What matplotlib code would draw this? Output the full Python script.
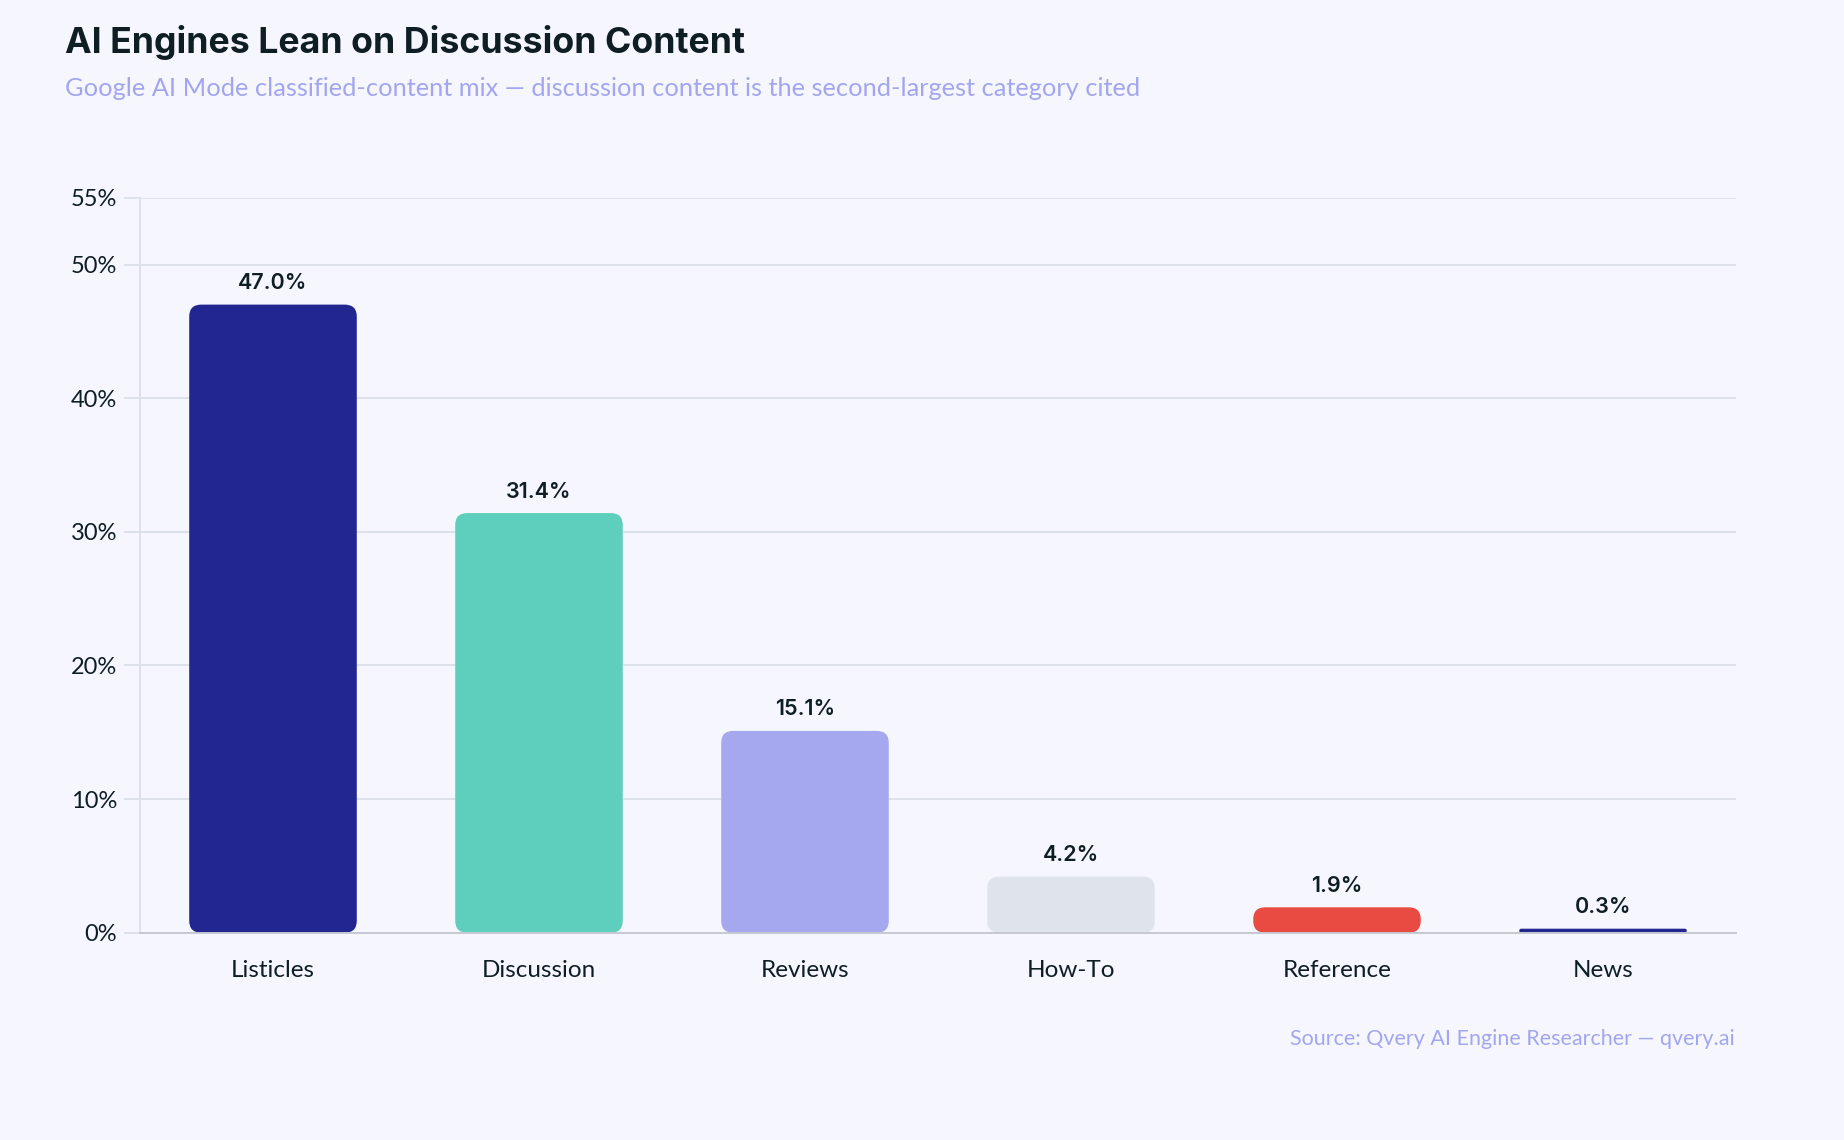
import numpy as np
import matplotlib.pyplot as plt
from matplotlib.patches import FancyBboxPatch

# data
categories = ["Listicles", "Discussion", "Reviews", "How-To", "Reference", "News"]
shares = [47.0, 31.4, 15.1, 4.2, 1.9, 0.3]
bar_colors = ["#212691", "#5fcfbd", "#a6a8ef", "#dfe3ea", "#e94a41", "#212691"]
y_ticks = [0, 10, 20, 30, 40, 50, 55]

title = "AI Engines Lean on Discussion Content"
subtitle = "Google AI Mode classified-content mix \u2014 discussion content is the second-largest category cited"
source = "Source: Qvery AI Engine Researcher \u2014 qvery.ai"

BG = "#f6f7fe"
INK = "#0f1e24"
MUTED = "#a3a6ee"
GRID = "#dde2ea"

W, H, DPI = 1844, 1140, 100
fig = plt.figure(figsize=(W / DPI, H / DPI), dpi=DPI, facecolor=BG)
ax = fig.add_axes([140 / W, 1 - 932.7 / H, (1736 - 140) / W, (932.7 - 197.7) / H])
ax.set_facecolor(BG)

x = np.arange(len(categories))
bar_w = 0.63
ax.set_xlim(-0.5, len(categories) - 0.5)
ax.set_ylim(0, 55)

bars = ax.bar(x, shares, width=bar_w, color=bar_colors, zorder=3)

# swap plain bars for rounded ones
px_w = 1596.0
px_h = 735.0
x_per_px = 6.0 / px_w
y_per_px = 55.0 / px_h
aspect = y_per_px / x_per_px
r_px = 12.0
for b in bars:
    bx, by = b.get_x(), b.get_y()
    bw, bh = b.get_width(), b.get_height()
    b.set_visible(False)
    h_px = bh / y_per_px
    r = min(r_px, h_px / 2.0) * x_per_px
    p = FancyBboxPatch((bx, by), bw, bh,
                       boxstyle="round,pad=0,rounding_size=%f" % r,
                       mutation_aspect=aspect,
                       facecolor=b.get_facecolor(), edgecolor="none", zorder=3)
    ax.add_patch(p)

# value labels
for xi, v in zip(x, shares):
    ax.annotate("%.1f%%" % v, (xi, v), xytext=(0, 15.5 * 0.72), textcoords="offset points",
                ha="center", va="baseline", fontsize=15.5, family="Inter",
                fontweight="semibold", color=INK, zorder=4)

# category labels
ax.set_xticks(x)
ax.set_xticklabels([])
ax.tick_params(axis="x", length=0)
for xi, c in zip(x, categories):
    ax.annotate(c, (xi, 0), xytext=(0, -44 * 0.72), textcoords="offset points",
                ha="center", va="baseline", fontsize=17.5, family="Lato", color=INK)

ax.set_yticks(y_ticks)
ax.set_yticklabels(["%d%%" % t for t in y_ticks], fontsize=17, family="Lato", color=INK)
ax.tick_params(axis="y", length=11.5, width=1.4, color=GRID, pad=5)
ax.yaxis.grid(True, color=GRID, linewidth=1.4, zorder=0)
ax.set_axisbelow(True)

for s in ["top", "right"]:
    ax.spines[s].set_visible(False)
ax.spines["left"].set_color(GRID)
ax.spines["left"].set_linewidth(1.4)
ax.spines["bottom"].set_color("#c5c9d3")
ax.spines["bottom"].set_linewidth(1.4)
ax.spines["bottom"].set_zorder(5)

fig.text(65 / W, 1 - 52.7 / H, title, fontsize=25.7, family="Inter", fontweight="bold",
         color=INK, ha="left", va="baseline")
fig.text(65 / W, 1 - 96 / H, subtitle, fontsize=18.3, family="Lato", color=MUTED,
         ha="left", va="baseline")
fig.text(1735 / W, 1 - 1045 / H, source, fontsize=15.5, family="Lato", color=MUTED,
         ha="right", va="baseline")

fig.savefig("out.png", dpi=DPI, facecolor=BG)
